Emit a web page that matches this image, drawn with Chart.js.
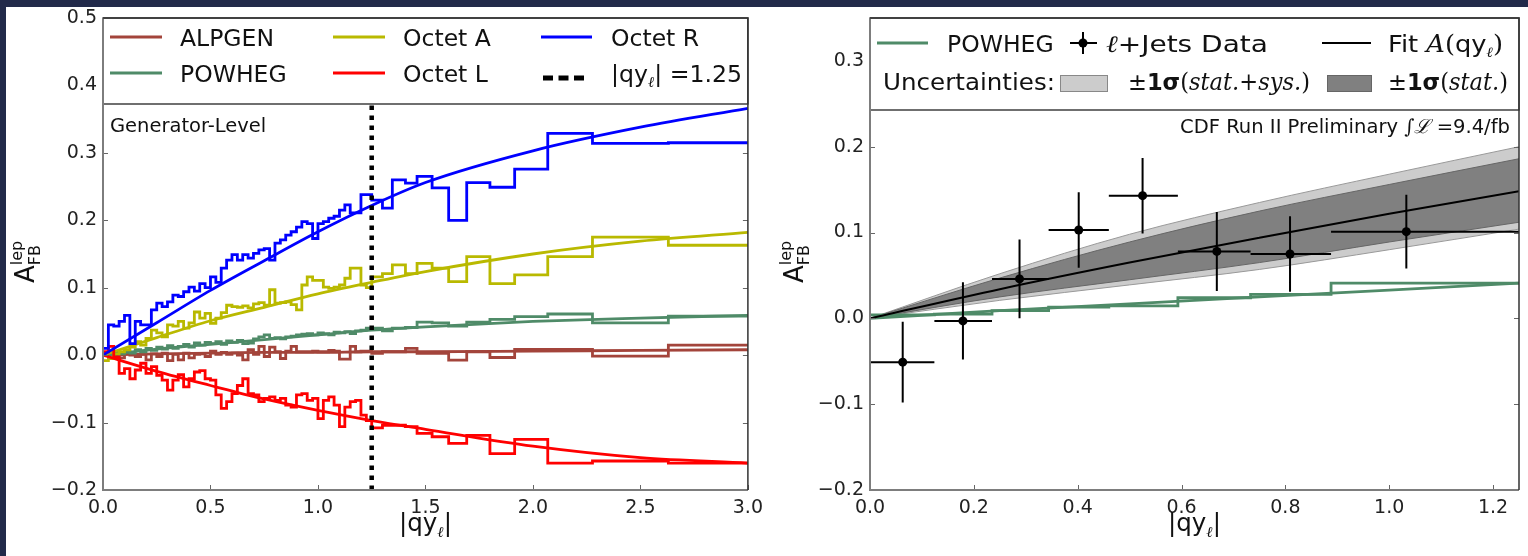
<!DOCTYPE html>
<html>
<head>
<meta charset="utf-8">
<script src="https://cdn.jsdelivr.net/npm/chart.js@4.4.0/dist/chart.umd.min.js"></script>
<style>
  html, body { margin: 0; padding: 0; width: 1528px; height: 556px; overflow: hidden; background: #222a4a; }
  #paper { position: absolute; left: 6px; top: 7px; width: 1522px; height: 549px; background: #fff; }
  canvas { position: absolute; top: 0; }
  #cL { left: 0; }
  #cR { left: 770px; }
</style>
</head>
<body>
<div id="paper"></div>
<canvas id="cL" width="770" height="556"></canvas>
<canvas id="cR" width="758" height="556"></canvas>
<script>
// ---------- left panel : generator level ----------
const binEdges = [0, 0.025, 0.05, 0.075, 0.1, 0.125, 0.15, 0.175, 0.2, 0.225, 0.25, 0.275, 0.3, 0.325, 0.35, 0.375,
  0.4, 0.425, 0.45, 0.475, 0.5, 0.525, 0.55, 0.575, 0.6, 0.625, 0.65, 0.675, 0.7, 0.725, 0.75, 0.775, 0.8, 0.825,
  0.85, 0.875, 0.9, 0.925, 0.95, 0.975, 1.0, 1.025, 1.05, 1.075, 1.1, 1.125, 1.15, 1.175, 1.2, 1.225, 1.25,
  1.30, 1.346, 1.407, 1.461, 1.531, 1.608, 1.692, 1.80, 1.915, 2.069, 2.277, 2.63, 3.0];

const histAlpgen = [0.003, 0.002, 0.004, -0.004, 0.003, 0.000, -0.002, 0.001, -0.007, 0.002,
  -0.002, 0.003, -0.008, 0.001, -0.007, 0.003, -0.004, 0.001, 0.002, -0.002,
  0.006, 0.001, 0.004, 0.001, 0.003, 0.000, -0.007, 0.008, 0.001, 0.013,
  -0.002, 0.012, 0.005, -0.005, 0.006, 0.013, 0.005, 0.005, 0.005, 0.006,
  0.005, 0.005, 0.007, 0.006, -0.006, -0.006, 0.013, 0.005, 0.006, 0.006,
  0.0025, 0.005, 0.005, 0.010, 0.0025, 0.0025, -0.0074, 0.005, -0.0035, 0.0084, 0.0084, -0.0015, 0.015];
const histPowheg = [0.002, 0.000, 0.004, 0.002, 0.006, 0.003, 0.008, 0.005, 0.010, 0.007,
  0.012, 0.009, 0.014, 0.010, 0.013, 0.016, 0.012, 0.018, 0.015, 0.019,
  0.017, 0.020, 0.016, 0.021, 0.019, 0.022, 0.017, 0.018, 0.024, 0.027,
  0.030, 0.025, 0.026, 0.024, 0.027, 0.028, 0.030, 0.031, 0.032, 0.030,
  0.033, 0.032, 0.030, 0.034, 0.033, 0.035, 0.032, 0.036, 0.037, 0.040,
  0.040, 0.036, 0.040, 0.041, 0.049, 0.048, 0.043, 0.049, 0.053, 0.057, 0.061, 0.048, 0.058];
const histOctetA = [-0.008, -0.005, 0.002, 0.005, 0.008, 0.012, 0.020, 0.015, 0.025, 0.037,
  0.033, 0.027, 0.045, 0.043, 0.050, 0.040, 0.048, 0.064, 0.055, 0.062,
  0.047, 0.055, 0.063, 0.074, 0.072, 0.071, 0.073, 0.070, 0.076, 0.078,
  0.074, 0.097, 0.077, 0.078, 0.079, 0.075, 0.067, 0.104, 0.116, 0.111,
  0.111, 0.101, 0.099, 0.101, 0.104, 0.114, 0.129, 0.129, 0.104, 0.100,
  0.116, 0.121, 0.134, 0.121, 0.136, 0.129, 0.109, 0.146, 0.106, 0.119, 0.146, 0.175, 0.163];
const histOctetL = [0.005, 0.013, -0.003, -0.027, -0.020, -0.035, -0.022, -0.012, -0.027, -0.017,
  -0.030, -0.037, -0.052, -0.037, -0.029, -0.047, -0.035, -0.025, -0.023, -0.035,
  -0.037, -0.059, -0.079, -0.069, -0.057, -0.045, -0.035, -0.057, -0.059, -0.069,
  -0.064, -0.062, -0.067, -0.064, -0.074, -0.077, -0.059, -0.057, -0.067, -0.064,
  -0.094, -0.067, -0.062, -0.074, -0.106, -0.077, -0.069, -0.067, -0.089, -0.097,
  -0.108, -0.104, -0.104, -0.106, -0.116, -0.121, -0.131, -0.119, -0.146, -0.125, -0.160, -0.157, -0.160];
const histOctetR = [0.010, 0.045, 0.043, 0.050, 0.059, 0.017, 0.050, 0.045, 0.045, 0.067,
  0.077, 0.072, 0.079, 0.089, 0.087, 0.094, 0.101, 0.095, 0.106, 0.100,
  0.116, 0.108, 0.129, 0.141, 0.149, 0.141, 0.149, 0.144, 0.151, 0.156,
  0.158, 0.141, 0.166, 0.171, 0.178, 0.183, 0.190, 0.198, 0.195, 0.173,
  0.195, 0.198, 0.203, 0.206, 0.215, 0.223, 0.211, 0.211, 0.238, 0.238,
  0.230, 0.218, 0.260, 0.255, 0.265, 0.248, 0.200, 0.256, 0.249, 0.276, 0.329, 0.314, 0.315];

const fitX = [0, 0.25, 0.5, 0.75, 1.0, 1.25, 1.5, 2.0, 2.5, 3.0];
const fitAlpgen = [0, 0.002, 0.003, 0.004, 0.004, 0.005, 0.005, 0.006, 0.007, 0.008];
const fitPowheg = [0, 0.009, 0.016, 0.023, 0.030, 0.037, 0.042, 0.050, 0.055, 0.059];
const fitOctetA = [0, 0.026, 0.051, 0.071, 0.091, 0.108, 0.124, 0.150, 0.169, 0.182];
const fitOctetL = [0, -0.024, -0.045, -0.065, -0.082, -0.097, -0.110, -0.135, -0.152, -0.160];
const fitOctetR = [0, 0.048, 0.096, 0.140, 0.183, 0.222, 0.256, 0.303, 0.338, 0.366];
const cutValue = 1.25;

// ---------- right panel : lepton+jets data ----------
const dataX = [0.063, 0.179, 0.288, 0.402, 0.525, 0.668, 0.809, 1.033];
const dataY = [-0.051, -0.003, 0.046, 0.103, 0.143, 0.078, 0.075, 0.101];
const dataYErr = [0.047, 0.045, 0.046, 0.044, 0.044, 0.046, 0.044, 0.043];
const dataBinEdges = [0, 0.124, 0.235, 0.344, 0.46, 0.593, 0.733, 0.888, 1.25];
const powhegHistR = [0.004, 0.005, 0.009, 0.013, 0.0145, 0.024, 0.028, 0.041];
const bandX = [0, 0.25, 0.5, 0.75, 1.0, 1.25];
const powhegFitR = [0, 0.009, 0.017, 0.025, 0.033, 0.041];
const fitData = [0, 0.034, 0.065, 0.094, 0.122, 0.148];
const statSysHi = [0, 0.052, 0.098, 0.135, 0.168, 0.200];
const statHi = [0, 0.047, 0.089, 0.125, 0.156, 0.186];
const statLo = [0, 0.025, 0.045, 0.065, 0.089, 0.112];
const statSysLo = [0, 0.021, 0.039, 0.057, 0.080, 0.104];

const C = { alpgen: '#a3443b', powheg: '#4f8b68', octA: '#b9b900', octL: '#ff0000', octR: '#0000ff' };
const SANS = '"DejaVu Sans", sans-serif';
const F = (s, st) => (st ? st + ' ' : '') + s + 'px ' + SANS;
const FS = (s, st) => (st ? st + ' ' : '') + s + 'px "DejaVu Serif", serif';

Chart.defaults.font.family = SANS;

const histPts = (edges, v) => v.map((y, i) => ({ x: edges[i], y })).concat([{ x: edges[edges.length - 1], y: v[v.length - 1] }]);
const curvePts = (xs, ys) => xs.map((x, i) => ({ x, y: ys[i] }));
const fmt = v => { if (Math.abs(v) < 1e-9) v = 0; return (v < 0 ? '\u2212' : '') + Math.abs(v).toFixed(1); };

// draws text pieces one after another, optionally squeezed to a width
function textRuns(ctx, x, y, parts, width) {
  let total = 0;
  parts.forEach(p => { ctx.font = p.f; p.w = ctx.measureText(p.t).width; if (p.adv !== false) total += p.w; });
  const sx = width ? width / total : 1;
  ctx.save();
  ctx.translate(x, y); ctx.scale(sx, 1);
  ctx.textAlign = 'left'; ctx.textBaseline = 'alphabetic'; ctx.fillStyle = '#111';
  let cx = 0;
  parts.forEach(p => { ctx.font = p.f; ctx.fillText(p.t, cx, p.dy || 0); if (p.adv !== false) cx += p.w; });
  ctx.restore();
}

function hline(ctx, x1, x2, y, color, w, dash) {
  ctx.save(); ctx.strokeStyle = color; ctx.lineWidth = w; if (dash) ctx.setLineDash(dash);
  ctx.beginPath(); ctx.moveTo(x1, y); ctx.lineTo(x2, y); ctx.stroke(); ctx.restore();
}

function frameAndTicks(chart, legendBottom) {
  const { ctx, chartArea: a, scales: { x, y } } = chart;
  ctx.save();
  ctx.strokeStyle = '#666'; ctx.lineWidth = 1;
  ctx.beginPath();
  y.ticks.forEach(t => {
    const py = Math.round(y.getPixelForValue(t.value)) + 0.5;
    ctx.moveTo(a.left, py); ctx.lineTo(a.left + 5, py);
    ctx.moveTo(a.right, py); ctx.lineTo(a.right - 5, py);
  });
  x.ticks.forEach(t => {
    const px = Math.round(x.getPixelForValue(t.value)) + 0.5;
    ctx.moveTo(px, a.bottom); ctx.lineTo(px, a.bottom - 5);
  });
  ctx.stroke();
  // legend box
  ctx.fillStyle = '#fff';
  ctx.fillRect(a.left, a.top, a.right - a.left, legendBottom - a.top);
  ctx.strokeStyle = '#222'; ctx.lineWidth = 1.3;
  ctx.strokeRect(a.left, a.top, a.right - a.left, legendBottom - a.top);
  // spines
  ctx.strokeStyle = '#7d7d7d'; ctx.lineWidth = 2;
  ctx.beginPath(); ctx.moveTo(a.left, a.top); ctx.lineTo(a.left, a.bottom); ctx.lineTo(a.right, a.bottom); ctx.stroke();
  ctx.strokeStyle = '#333'; ctx.lineWidth = 1.5;
  ctx.beginPath(); ctx.moveTo(a.left, a.top); ctx.lineTo(a.right, a.top); ctx.lineTo(a.right, a.bottom); ctx.stroke();
  ctx.restore();
}

function yTitle(ctx, bx, by) {
  ctx.save();
  ctx.translate(bx, by); ctx.rotate(-Math.PI / 2);
  textRuns(ctx, 0, 0, [
    { t: 'A', f: F(26) },
    { t: 'FB', f: F(16), dy: 6, adv: false },
    { t: 'lep', f: F(16), dy: -12 }
  ]);
  ctx.restore();
}

function xTitle(ctx, x, y) {
  textRuns(ctx, x, y, [
    { t: '|qy', f: F(24) },
    { t: 'ℓ', f: FS(15, 'italic'), dy: 6 },
    { t: '|', f: F(24) }
  ], 53);
}

function scaleCfg(min, max, step, size, isY) {
  return {
    type: 'linear', min, max,
    grid: { display: false, drawTicks: false },
    border: { display: false },
    ticks: { stepSize: step, includeBounds: false, autoSkip: false, maxRotation: 0, padding: isY ? 6 : 7,
      color: '#222', font: { size: 19, family: SANS }, callback: fmt },
    afterFit: s => { if (isY) s.width = size; else s.height = size; }
  };
}

// ---------------- left chart ----------------
const leftDecor = {
  id: 'leftDecor',
  afterDraw(chart) {
    const ctx = chart.ctx;
    frameAndTicks(chart, 104);
    const cols = [[110, 162, 180], [333, 385, 403], [541, 592, 611]];
    const rows = [37, 73];
    const items = [
      [0, 0, C.alpgen, 'ALPGEN'], [0, 1, C.powheg, 'POWHEG'],
      [1, 0, C.octA, 'Octet A'], [1, 1, C.octL, 'Octet L'],
      [2, 0, C.octR, 'Octet R']
    ];
    items.forEach(([c, r, col, label]) => {
      hline(ctx, cols[c][0], cols[c][1], rows[r], col, 2.8);
      textRuns(ctx, cols[c][2], rows[r] + 9, [{ t: label, f: F(23.5) }]);
    });
    hline(ctx, 543, 584, 78, '#000', 5, [10, 5.5]);
    textRuns(ctx, cols[2][2], rows[1] + 9, [
      { t: '|qy', f: F(23.5) }, { t: 'ℓ', f: FS(15, 'italic'), dy: 5 }, { t: '| =1.25', f: F(23.5) }
    ], 131);
    textRuns(ctx, 110, 132, [{ t: 'Generator-Level', f: F(19.5) }]);
    yTitle(ctx, 34, 283);
    xTitle(ctx, 399, 531);
  }
};

const histDs = (label, v, color, order) => ({ label, data: histPts(binEdges, v), borderColor: color, borderWidth: 2.8, stepped: true, order });
const fitDs = (label, v, color, order) => ({ label, data: curvePts(fitX, v), borderColor: color, borderWidth: 2.8, cubicInterpolationMode: 'monotone', order });

new Chart(document.getElementById('cL'), {
  type: 'line',
  data: {
    datasets: [
      { label: 'cut', data: [{ x: cutValue, y: -0.2 }, { x: cutValue, y: 0.5 }], borderColor: '#000', borderWidth: 4.5, borderDash: [4.5, 5.5], order: 0 },
      histDs('Octet R', histOctetR, C.octR, 1), fitDs('Octet R fit', fitOctetR, C.octR, 1),
      histDs('Octet L', histOctetL, C.octL, 2), fitDs('Octet L fit', fitOctetL, C.octL, 2),
      histDs('Octet A', histOctetA, C.octA, 3), fitDs('Octet A fit', fitOctetA, C.octA, 3),
      histDs('POWHEG', histPowheg, C.powheg, 4), fitDs('POWHEG fit', fitPowheg, C.powheg, 4),
      histDs('ALPGEN', histAlpgen, C.alpgen, 5), fitDs('ALPGEN fit', fitAlpgen, C.alpgen, 5)
    ]
  },
  options: {
    responsive: false, animation: false, devicePixelRatio: 1, events: [],
    layout: { padding: { left: 0, right: 17, top: 18, bottom: 0 } },
    elements: { point: { radius: 0 }, line: { tension: 0 } },
    plugins: { legend: { display: false }, tooltip: { enabled: false } },
    scales: { x: scaleCfg(0, 3, 0.5, 66, false), y: scaleCfg(-0.2, 0.5, 0.1, 103, true) }
  },
  plugins: [leftDecor]
});

// ---------------- right chart ----------------
const OFF = 770;
const rightDecor = {
  id: 'rightDecor',
  afterDatasetsDraw(chart) {
    const { ctx, scales: { x, y } } = chart;
    ctx.save(); ctx.strokeStyle = '#000'; ctx.lineWidth = 2;
    ctx.beginPath();
    dataX.forEach((dx, i) => {
      const px = x.getPixelForValue(dx), py = y.getPixelForValue(dataY[i]);
      ctx.moveTo(x.getPixelForValue(dataBinEdges[i]), py); ctx.lineTo(x.getPixelForValue(dataBinEdges[i + 1]), py);
      ctx.moveTo(px, y.getPixelForValue(dataY[i] + dataYErr[i])); ctx.lineTo(px, y.getPixelForValue(dataY[i] - dataYErr[i]));
    });
    ctx.stroke(); ctx.restore();
  },
  afterDraw(chart) {
    const ctx = chart.ctx;
    frameAndTicks(chart, 110);
    ctx.save(); ctx.translate(-OFF, 0);
    hline(ctx, 877, 928, 43, C.powheg, 2.8);
    textRuns(ctx, 947, 52, [{ t: 'POWHEG', f: F(23.5) }]);
    hline(ctx, 1070, 1097, 43, '#000', 2);
    ctx.beginPath(); ctx.moveTo(1083, 32); ctx.lineTo(1083, 54); ctx.lineWidth = 2; ctx.strokeStyle = '#000'; ctx.stroke();
    ctx.beginPath(); ctx.arc(1083, 43, 4.5, 0, Math.PI * 2); ctx.fillStyle = '#000'; ctx.fill();
    textRuns(ctx, 1106, 52, [{ t: 'ℓ', f: FS(23.5, 'italic') }, { t: '+Jets Data', f: F(23.5) }], 162);
    hline(ctx, 1322, 1371, 43, '#000', 2);
    textRuns(ctx, 1388, 52, [
      { t: 'Fit ', f: F(23.5) }, { t: 'A', f: FS(23.5, 'italic') }, { t: '(', f: FS(23.5) },
      { t: 'qy', f: F(23.5) }, { t: 'ℓ', f: FS(14, 'italic'), dy: 5 }, { t: ')', f: FS(23.5) }
    ], 115);
    textRuns(ctx, 883, 90, [{ t: 'Uncertainties:', f: F(23.5) }], 172);
    ctx.fillStyle = '#cccccc'; ctx.fillRect(1060, 75, 47, 16);
    ctx.strokeStyle = '#888'; ctx.lineWidth = 1; ctx.strokeRect(1060.5, 75.5, 47, 16);
    const sigma = close => [
      { t: '±', f: F(23.5) }, { t: '1σ', f: F(23.5, 'bold') }, { t: '(', f: FS(23.5) }, { t: 'stat.', f: FS(23.5, 'italic') }
    ].concat(close);
    textRuns(ctx, 1128, 90, sigma([{ t: '+', f: FS(23.5) }, { t: 'sys.', f: FS(23.5, 'italic') }, { t: ')', f: FS(23.5) }]), 182);
    ctx.fillStyle = '#808080'; ctx.fillRect(1327, 75, 44, 16);
    ctx.strokeStyle = '#666'; ctx.strokeRect(1327.5, 75.5, 44, 16);
    textRuns(ctx, 1388, 90, sigma([{ t: ')', f: FS(23.5) }]), 120);
    textRuns(ctx, 1180, 133, [
      { t: 'CDF Run II Preliminary ', f: F(19.5) }, { t: '∫ℒ', f: FS(19.5, 'italic') }, { t: ' =9.4/fb', f: F(19.5) }
    ], 330);
    yTitle(ctx, 803, 283);
    xTitle(ctx, 1168, 531);
    ctx.restore();
  }
};

new Chart(document.getElementById('cR'), {
  type: 'line',
  data: {
    datasets: [
      { label: 'stat+sys hi', data: curvePts(bandX, statSysHi), borderColor: '#999', borderWidth: 1, backgroundColor: '#cccccc', fill: '+1', cubicInterpolationMode: 'monotone', order: 9 },
      { label: 'stat+sys lo', data: curvePts(bandX, statSysLo), borderColor: '#999', borderWidth: 1, cubicInterpolationMode: 'monotone', order: 8 },
      { label: 'stat hi', data: curvePts(bandX, statHi), borderColor: '#666', borderWidth: 1, backgroundColor: '#808080', fill: '+1', cubicInterpolationMode: 'monotone', order: 7 },
      { label: 'stat lo', data: curvePts(bandX, statLo), borderColor: '#666', borderWidth: 1, cubicInterpolationMode: 'monotone', order: 6 },
      { label: 'POWHEG', data: histPts(dataBinEdges, powhegHistR), borderColor: C.powheg, borderWidth: 2.8, stepped: true, order: 5 },
      { label: 'POWHEG fit', data: curvePts(bandX, powhegFitR), borderColor: C.powheg, borderWidth: 2.8, cubicInterpolationMode: 'monotone', order: 4 },
      { label: 'Fit', data: curvePts(bandX, fitData), borderColor: '#000', borderWidth: 2, cubicInterpolationMode: 'monotone', order: 3 },
      { label: 'l+Jets Data', data: curvePts(dataX, dataY), showLine: false, pointRadius: 4.5, pointBackgroundColor: '#000', pointBorderWidth: 0, order: 1 }
    ]
  },
  options: {
    responsive: false, animation: false, devicePixelRatio: 1, events: [],
    layout: { padding: { left: 0, right: 9, top: 18, bottom: 0 } },
    elements: { point: { radius: 0 }, line: { tension: 0 } },
    plugins: { legend: { display: false }, tooltip: { enabled: false } },
    scales: { x: scaleCfg(0, 1.25, 0.2, 66, false), y: scaleCfg(-0.2, 0.35, 0.1, 100, true) }
  },
  plugins: [rightDecor]
});
</script>
</body>
</html>
